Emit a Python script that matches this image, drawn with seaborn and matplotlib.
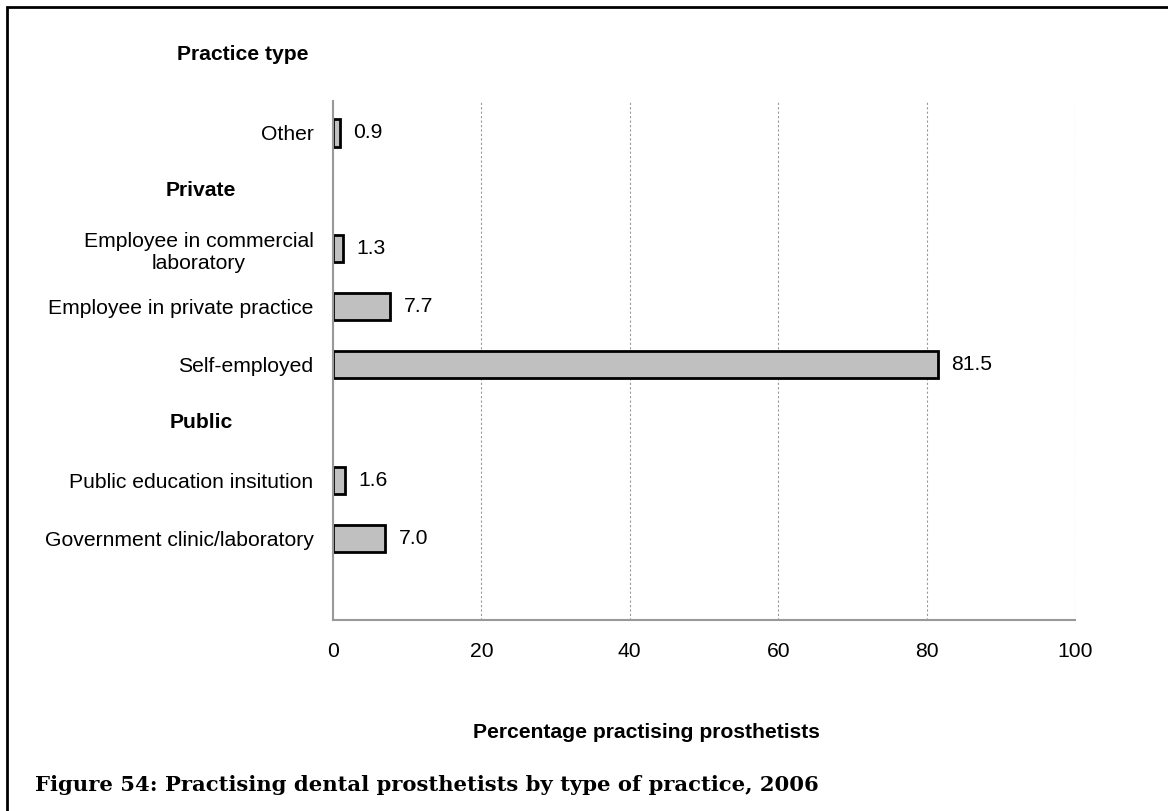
import matplotlib
matplotlib.use("Agg")
import matplotlib.pyplot as plt
import matplotlib.patches as patches
import matplotlib.transforms as mtransforms
import pandas as pd
import seaborn as sns

# rows of the chart, top to bottom (headers carry no bar)
row_order = ["Other", "Private", "Employee in commercial\nlaboratory",
             "Employee in private practice", "Self-employed", "Public",
             "Public education insitution", "Government clinic/laboratory"]
headers = ["Private", "Public"]

practice = ["Other", "Employee in commercial\nlaboratory",
            "Employee in private practice", "Self-employed",
            "Public education insitution", "Government clinic/laboratory"]
percent = [0.9, 1.3, 7.7, 81.5, 1.6, 7.0]

x_ticks = [0, 20, 40, 60, 80, 100]

df = pd.DataFrame({"practice": practice, "percent": percent})

sns.set_style("white")
plt.rcParams["font.family"] = ["Liberation Sans", "DejaVu Sans"]
plt.rcParams["text.color"] = "black"
plt.rcParams["xtick.color"] = "black"
plt.rcParams["ytick.color"] = "black"

FS = 15.2
W, H = 1168, 811
fig = plt.figure(figsize=(W / 100, H / 100), dpi=100)
ax = fig.add_axes([333 / W, 1 - 620 / H, (1075 - 333) / W, (620 - 101) / H])

sns.barplot(
    data=df,
    x="percent",
    y="practice",
    order=row_order,
    color="#c0c0c0",
    edgecolor="black",
    linewidth=2,
    width=0.47,
    saturation=1,
    ax=ax
)

ax.set_xlim(0, 100)
ax.set_ylim(8.4, -0.55)
ax.set_xticks(x_ticks)
ax.set_xticklabels([str(t) for t in x_ticks])
ax.xaxis.grid(True, linestyle=(0, (2, 2)), color="#999999", linewidth=0.8)
ax.yaxis.grid(False)
ax.set_axisbelow(True)

for side in ["top", "right"]:
    ax.spines[side].set_visible(False)
for side in ["left", "bottom"]:
    ax.spines[side].set_color("#999999")
    ax.spines[side].set_linewidth(1.5)

ax.tick_params(axis="both", length=0, labelsize=FS, colors="black")
ax.tick_params(axis="y", pad=14)
ax.tick_params(axis="x", pad=16)
ax.set_yticklabels(["" if r in headers else r for r in row_order])
for lbl in ax.get_yticklabels():
    lbl.set_multialignment("center")
ax.set_xlabel("")
ax.set_ylabel("")

ax.bar_label(ax.containers[0], fmt="%.1f", padding=10, fontsize=FS,
             color="black")

trans = mtransforms.blended_transform_factory(fig.transFigure, ax.transData)
for h in headers:
    ax.text(201 / W, row_order.index(h), h, transform=trans,
            ha="center", va="center", fontsize=FS, fontweight="bold")

fig.text(243 / W, 1 - 55 / H, "Practice type", ha="center", va="center",
         fontsize=FS, fontweight="bold")
fig.text(646 / W, 1 - 732 / H, "Percentage practising prosthetists",
         ha="center", va="center", fontsize=FS, fontweight="bold")
fig.text(35 / W, 1 - 785 / H,
         "Figure 54: Practising dental prosthetists by type of practice, 2006",
         ha="left", va="center", fontsize=15.2, fontweight="bold",
         family=["DejaVu Serif"])

# frame around the chart, open to the right and bottom
fig.patches.append(patches.Rectangle(
    (7 / W, -0.2), 1.2, 1.2 - 7 / H, transform=fig.transFigure,
    fill=False, edgecolor="black", linewidth=2, clip_on=False))

fig.savefig("out.png", dpi=100)
